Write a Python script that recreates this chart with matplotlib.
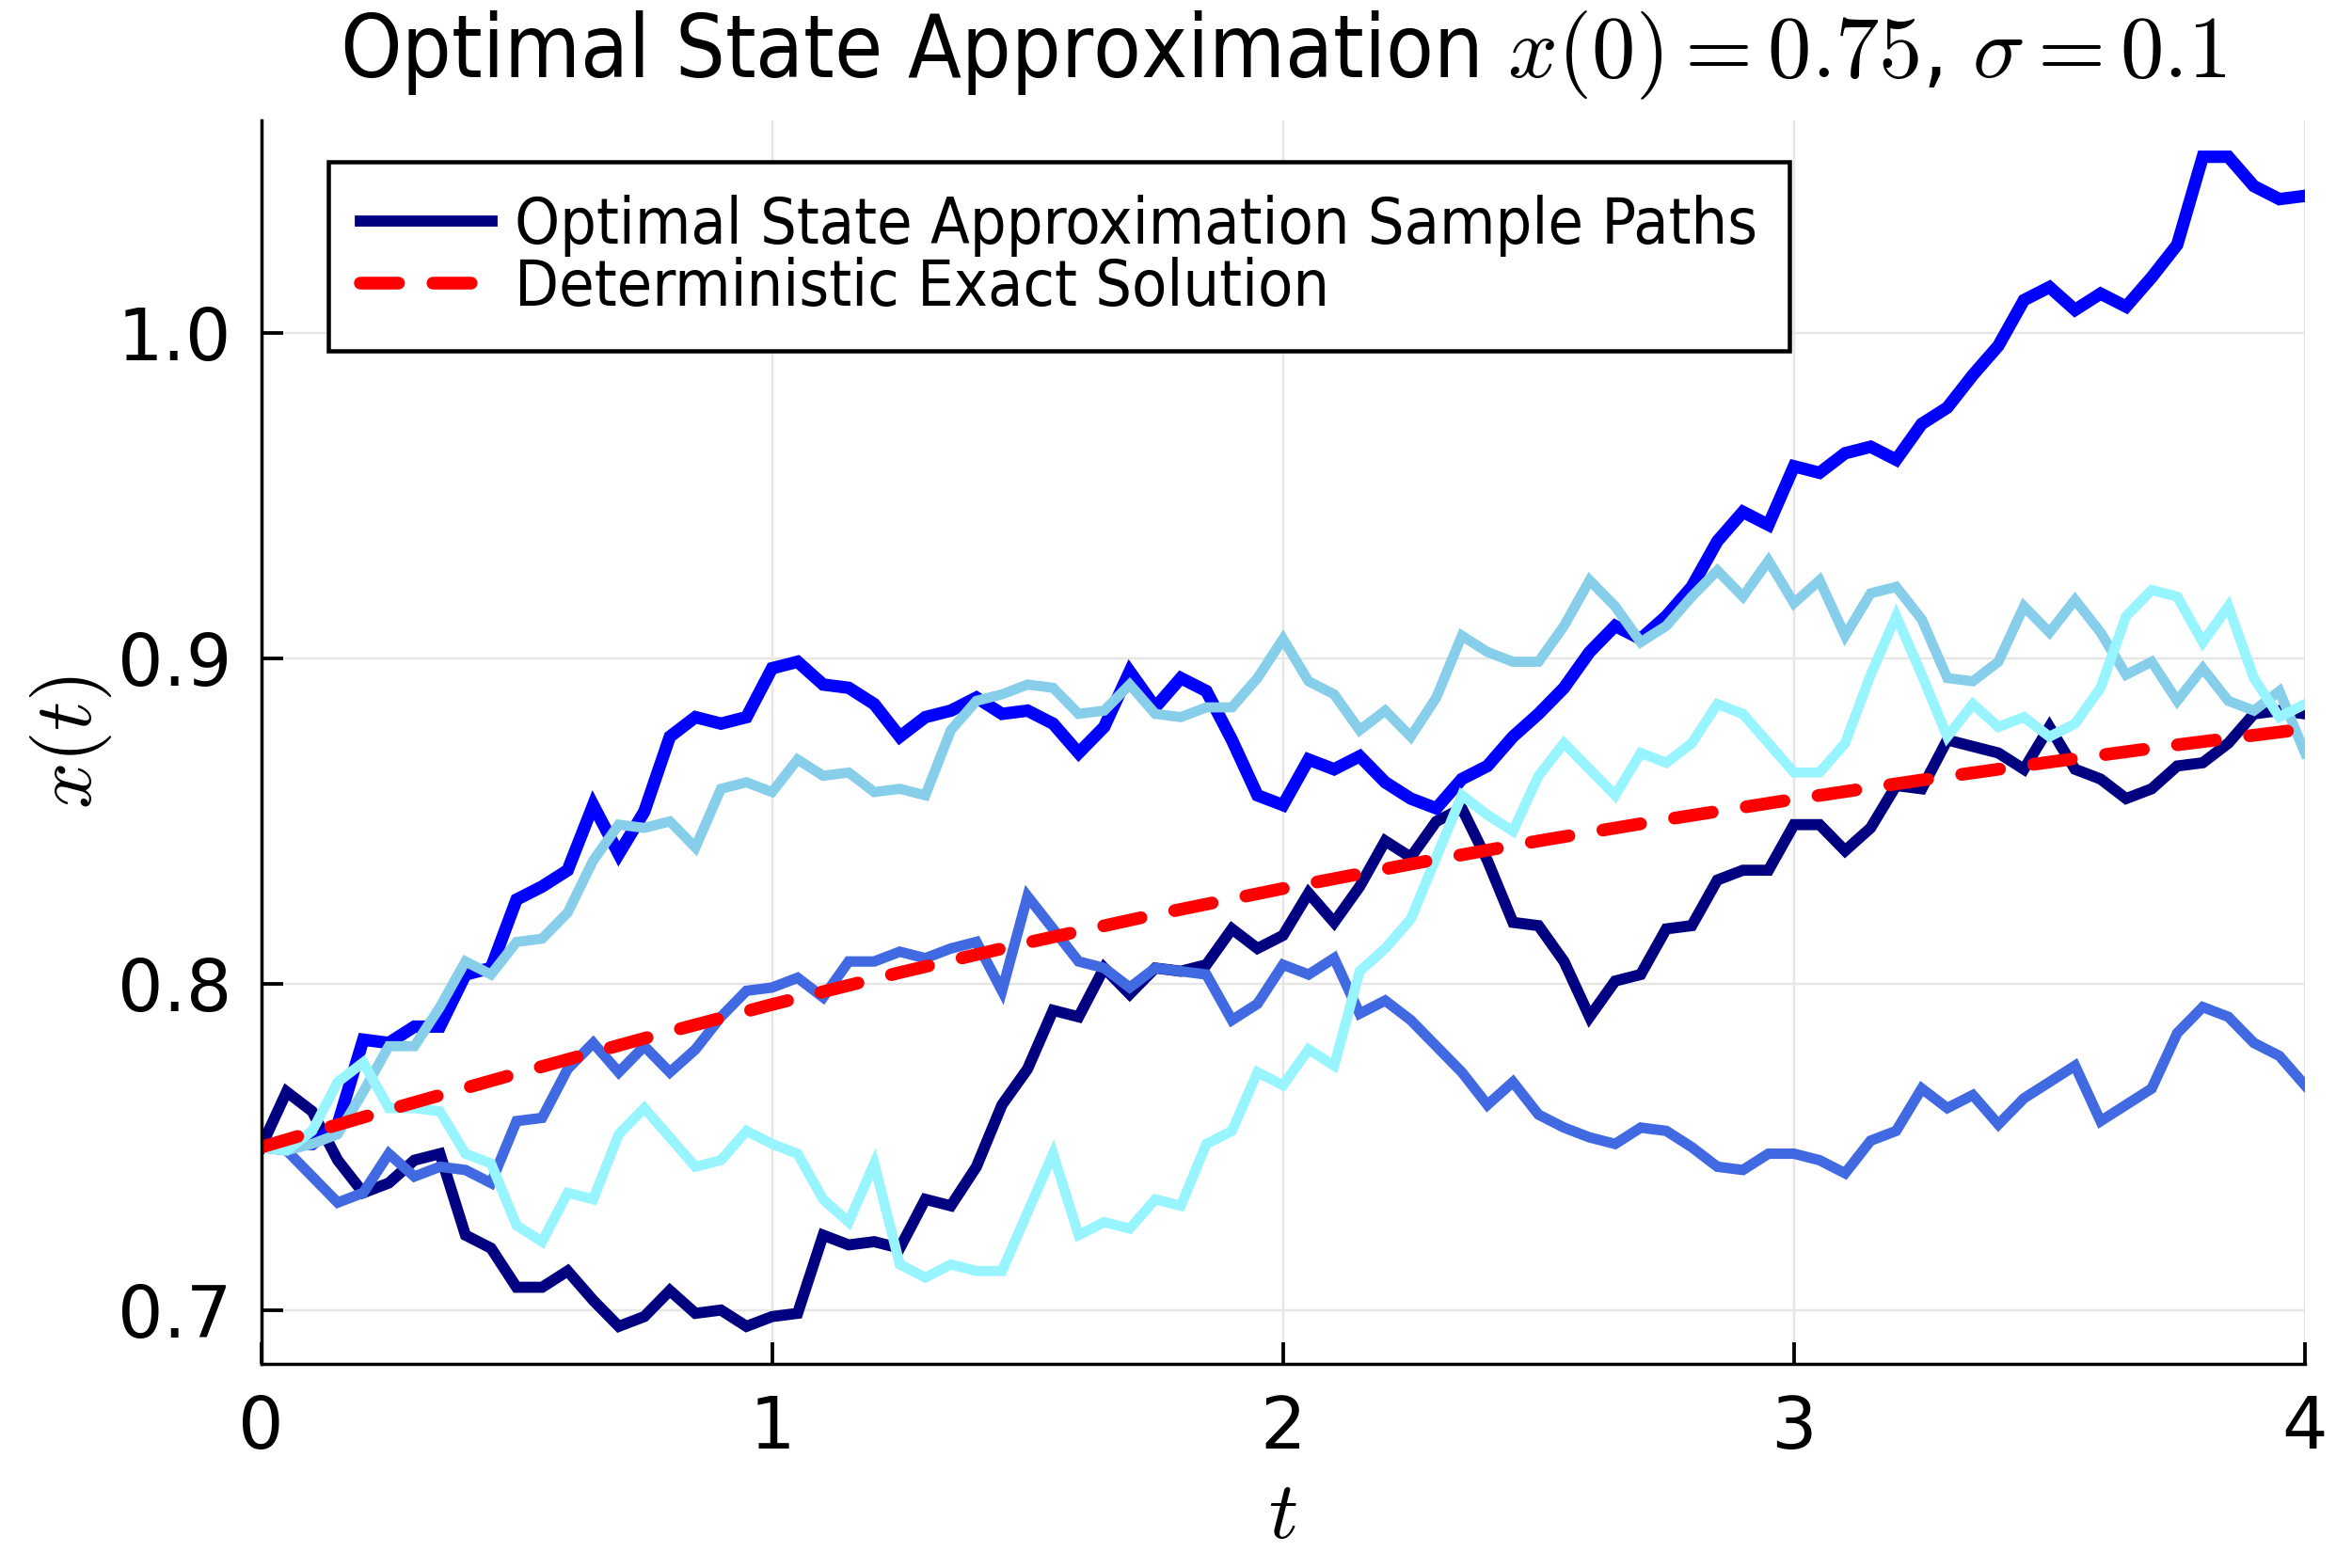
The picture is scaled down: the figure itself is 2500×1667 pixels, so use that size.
import numpy as np
import matplotlib
matplotlib.use("Agg")
import matplotlib.pyplot as plt

# time grid (dt = 0.05 on [0, 4])
dt = 0.05
t = np.arange(81) * dt

# sample paths
navy_path = [0.750, 0.767, 0.761, 0.746, 0.736, 0.739, 0.746, 0.748, 0.723, 0.719, 0.707,
             0.707, 0.712, 0.703, 0.695, 0.698, 0.706, 0.699, 0.700, 0.695, 0.698,
             0.699, 0.723, 0.720, 0.721, 0.719, 0.734, 0.732, 0.744, 0.763, 0.774,
             0.792, 0.790, 0.805, 0.797, 0.805, 0.804, 0.806, 0.817, 0.811, 0.815,
             0.828, 0.819, 0.830, 0.844, 0.839, 0.850, 0.854, 0.838, 0.819, 0.818,
             0.807, 0.790, 0.801, 0.803, 0.817, 0.818, 0.832, 0.835, 0.835, 0.849,
             0.849, 0.841, 0.848, 0.861, 0.860, 0.875, 0.873, 0.871, 0.866, 0.879,
             0.866, 0.863, 0.857, 0.860, 0.867, 0.868, 0.874, 0.883, 0.884, 0.883]
blue_path = [0.750, 0.751, 0.751, 0.757, 0.783, 0.782, 0.787, 0.787, 0.803, 0.805, 0.826,
             0.830, 0.835, 0.855, 0.840, 0.853, 0.876, 0.882, 0.880, 0.882, 0.897,
             0.899, 0.892, 0.891, 0.886, 0.876, 0.882, 0.884, 0.888, 0.883, 0.884,
             0.880, 0.871, 0.879, 0.896, 0.885, 0.894, 0.890, 0.875, 0.858, 0.855,
             0.869, 0.866, 0.870, 0.862, 0.857, 0.854, 0.863, 0.867, 0.876, 0.883,
             0.891, 0.902, 0.910, 0.906, 0.913, 0.922, 0.936, 0.945, 0.941, 0.959,
             0.957, 0.963, 0.965, 0.961, 0.972, 0.977, 0.987, 0.996, 1.010, 1.014,
             1.007, 1.012, 1.008, 1.017, 1.027, 1.054, 1.054, 1.045, 1.041, 1.042]
royal_path = [0.750, 0.749, 0.741, 0.733, 0.736, 0.748, 0.741, 0.744, 0.743, 0.739, 0.758,
              0.759, 0.774, 0.782, 0.773, 0.781, 0.773, 0.780, 0.790, 0.798, 0.799,
              0.802, 0.796, 0.807, 0.807, 0.810, 0.808, 0.811, 0.813, 0.798, 0.827,
              0.817, 0.807, 0.805, 0.799, 0.805, 0.804, 0.803, 0.789, 0.794, 0.806,
              0.803, 0.808, 0.791, 0.795, 0.789, 0.781, 0.773, 0.763, 0.770, 0.760,
              0.756, 0.753, 0.751, 0.756, 0.755, 0.750, 0.744, 0.743, 0.748, 0.748,
              0.746, 0.742, 0.752, 0.755, 0.768, 0.762, 0.766, 0.757, 0.765, 0.770,
              0.775, 0.758, 0.763, 0.768, 0.785, 0.793, 0.790, 0.782, 0.778, 0.769]
sky_path = [0.750, 0.749, 0.751, 0.754, 0.767, 0.781, 0.781, 0.793, 0.807, 0.803, 0.813,
            0.814, 0.822, 0.838, 0.849, 0.848, 0.850, 0.842, 0.860, 0.862, 0.859,
            0.869, 0.864, 0.865, 0.859, 0.860, 0.858, 0.878, 0.887, 0.889, 0.892,
            0.891, 0.883, 0.884, 0.892, 0.883, 0.882, 0.885, 0.885, 0.894, 0.906,
            0.893, 0.889, 0.878, 0.884, 0.876, 0.888, 0.907, 0.902, 0.899, 0.899,
            0.910, 0.924, 0.916, 0.905, 0.910, 0.919, 0.927, 0.919, 0.930, 0.917,
            0.924, 0.907, 0.920, 0.922, 0.912, 0.894, 0.893, 0.899, 0.916, 0.908,
            0.918, 0.908, 0.895, 0.899, 0.887, 0.897, 0.887, 0.884, 0.890, 0.871]
cyan_path = [0.750, 0.749, 0.755, 0.770, 0.776, 0.762, 0.762, 0.761, 0.748, 0.745, 0.726,
             0.721, 0.736, 0.734, 0.754, 0.762, 0.753, 0.744, 0.746, 0.755, 0.751,
             0.748, 0.734, 0.727, 0.745, 0.714, 0.710, 0.714, 0.712, 0.712, 0.730,
             0.748, 0.723, 0.727, 0.725, 0.734, 0.732, 0.751, 0.755, 0.773, 0.769,
             0.780, 0.775, 0.804, 0.811, 0.820, 0.839, 0.858, 0.852, 0.847, 0.864,
             0.874, 0.866, 0.858, 0.871, 0.868, 0.874, 0.886, 0.883, 0.874, 0.865,
             0.865, 0.874, 0.895, 0.913, 0.895, 0.876, 0.886, 0.879, 0.882, 0.876,
             0.880, 0.891, 0.913, 0.921, 0.919, 0.905, 0.916, 0.894, 0.882, 0.886]

paths = [navy_path, blue_path, royal_path, sky_path, cyan_path]
colors = ["#000080", "#0000FF", "#4169E1", "#87CEEB", "#98F5FF"]
widths = [3.4, 3.8, 3.2, 3.1, 3.1]

# deterministic exact solution, read every 0.25
t_exact = [0.0, 0.25, 0.5, 0.75, 1.0, 1.25, 1.5, 1.75, 2.0,
           2.25, 2.5, 2.75, 3.0, 3.25, 3.5, 3.75, 4.0]
x_exact = [0.750, 0.7615, 0.7726, 0.7834, 0.7938, 0.8036, 0.8128, 0.8214, 0.8294,
           0.8369, 0.8440, 0.8506, 0.8568, 0.8627, 0.8682, 0.8735, 0.8784]

plt.rcParams['mathtext.fontset'] = 'cm'
plt.rcParams['font.family'] = 'DejaVu Sans'

fig = plt.figure(figsize=(10, 6.668), dpi=250)
ax = fig.add_axes([0.111, 0.130, 0.869, 0.7935])

for i, (p, c, w) in enumerate(zip(paths, colors, widths)):
    ax.plot(t, p, color=c, lw=w, solid_joinstyle='miter',
            label="Optimal State Approximation Sample Paths" if i == 0 else None)
ax.plot(t_exact, x_exact, color="#FF0000", lw=3.9, dashes=(3.0, 2.7),
        dash_capstyle='round', label="Deterministic Exact Solution")

ax.set_xlim(0, 4)
ax.set_ylim(0.6834, 1.0653)
ax.set_xticks([0, 1, 2, 3, 4])
ax.set_yticks([0.7, 0.8, 0.9, 1.0])
ax.set_yticklabels(["0.7", "0.8", "0.9", "1.0"])
ax.grid(True, color="#e6e6e6", lw=0.7)
ax.set_axisbelow(True)
for s in ["top", "right"]:
    ax.spines[s].set_visible(False)
for s in ["left", "bottom"]:
    ax.spines[s].set_linewidth(1.0)
ax.tick_params(direction='in', length=6.5, width=1.1, labelsize=22, pad=9)

ax.set_xlabel("$t$", fontsize=25, labelpad=4)
ax.set_ylabel("$x(t)$", fontsize=25, labelpad=1)
ax.set_title(r"Optimal State Approximation $x(0) = 0.75$, $\sigma = 0.1$",
             fontsize=26.7, fontstretch='condensed', pad=13)

leg = ax.legend(loc='upper left', bbox_to_anchor=(0.033, 0.966),
                prop={'size': 19.6, 'stretch': 'condensed'},
                fancybox=False, framealpha=1, edgecolor='black',
                handlelength=2.05, handletextpad=0.35, borderpad=0.5,
                labelspacing=0.0, borderaxespad=0)
leg.get_frame().set_linewidth(1.3)

fig.savefig("out.png", dpi=250)
